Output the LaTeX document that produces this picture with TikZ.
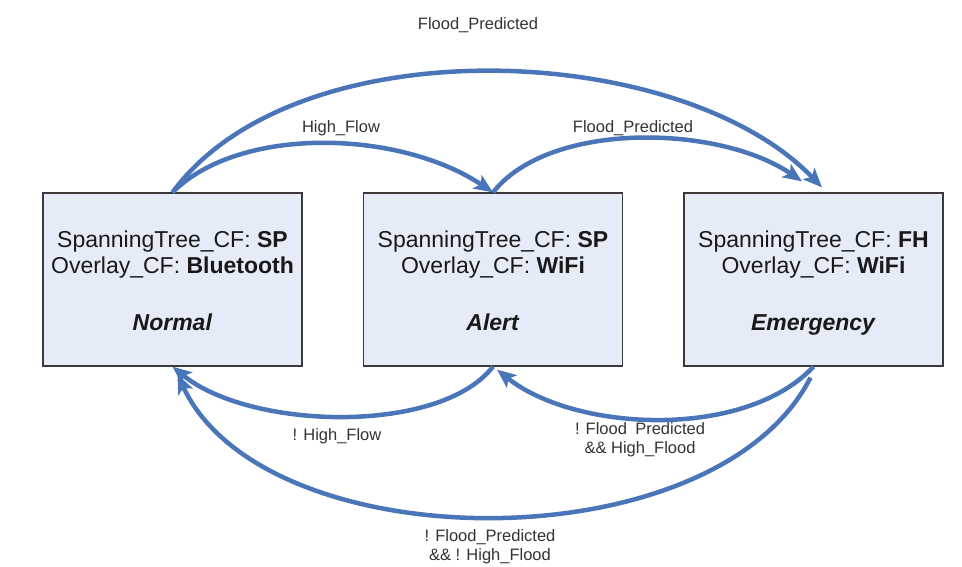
\documentclass[tikz,border=0pt]{standalone}
\usepackage{fontspec}
\setmainfont{Liberation Sans}
\usetikzlibrary{arrows.meta}
\definecolor{arrowblue}{HTML}{4A76B9}
\definecolor{boxfill}{HTML}{E6ECF7}
\definecolor{boxdraw}{HTML}{3A3A3A}
\definecolor{lbltext}{HTML}{333333}
\newcommand{\topfix}{\rule{0pt}{23pt}}
\newcommand{\botfix}{\vphantom{g}}
\begin{document}
\begin{tikzpicture}[x=1pt,y=-1pt,
  state/.style={draw=boxdraw, line width=1.2pt, fill=boxfill, minimum width=259pt,
    minimum height=173pt, inner sep=0pt, align=center, text=black!90,
    font=\fontsize{23}{26}\selectfont},
  trans/.style={draw=arrowblue, line width=4.5pt, -{Stealth[length=19pt,width=16pt,inset=4.5pt]}},
  lbl/.style={font=\fontsize{16.5}{19}\selectfont, text=lbltext, align=center, inner sep=0pt}]
\useasboundingbox (0,0) rectangle (962,567);

\node[state] (normal) at (172.5,279.5)
  {\topfix SpanningTree\_CF: \textbf{SP}\\ Overlay\_CF: \textbf{Bluetooth}\\[31pt] \textbf{\textit{Normal}}\botfix};
\node[state] (alert) at (493,279.5)
  {\topfix SpanningTree\_CF: \textbf{SP}\\ Overlay\_CF: \textbf{WiFi}\\[31pt] \textbf{\textit{Alert}}\botfix};
\node[state] (emerg) at (813.5,279.5)
  {\topfix SpanningTree\_CF: \textbf{FH}\\ Overlay\_CF: \textbf{WiFi}\\[31pt] \textbf{\textit{Emergency}}\botfix};

% upper transitions
\draw[trans] (normal.north) .. controls (240,125) and (400,130) .. (alert.north);
\draw[trans] (alert.north) .. controls (550,120) and (720,125) .. ([xshift=-11.5pt,yshift=11pt]emerg.north);
\draw[trans] (normal.north) .. controls (295,25) and (680,40) .. ([xshift=8.5pt,yshift=5pt]emerg.north);

% lower transitions
\draw[trans] (alert.south) .. controls (440,435) and (250,430) .. (normal.south);
\draw[trans] (emerg.south) .. controls (745,440) and (575,432) .. ([xshift=4pt,yshift=-3pt]alert.south);
\draw[trans] ([xshift=-3pt,yshift=-11pt]emerg.south) .. controls (715,565) and (265,562) .. ([xshift=5pt,yshift=-8pt]normal.south);

% labels
\node[lbl] (l1) at (341,128) {High\_Flow};
\node[lbl] (l2) at (633,128) {Flood\_Predicted};
\node[lbl] (l3) at (478,25) {Flood\_Predicted};
\node[lbl] (l4) at (337,436) {! High\_Flow};
\node[lbl] (l5) at (640,440) {! Flood\enspace Predicted\\ \&\& High\_Flood};
\node[lbl] (l6) at (490,547) {! Flood\_Predicted\\ \&\& ! High\_Flood};
\end{tikzpicture}
\end{document}
